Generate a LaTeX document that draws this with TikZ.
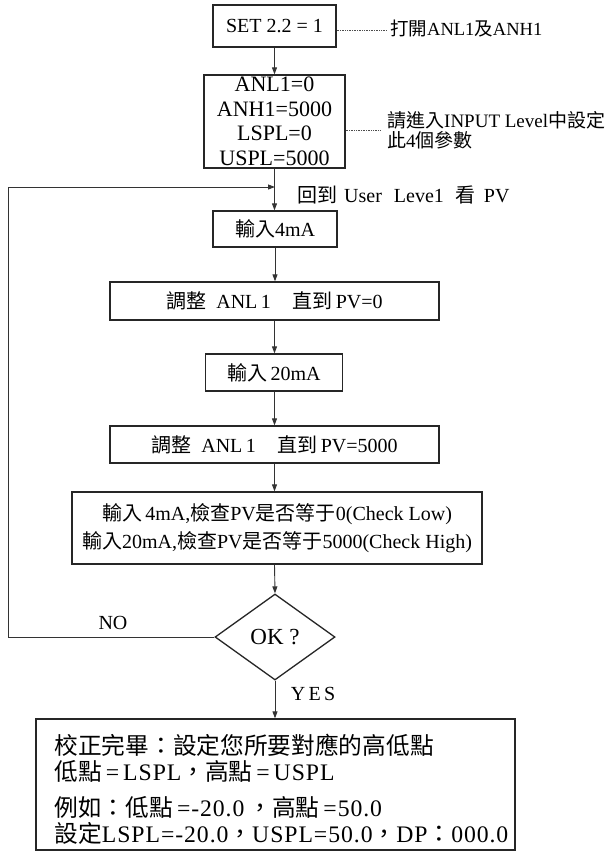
\documentclass[tikz,border=0pt]{standalone}
\usepackage{fontspec}
\setmainfont{Liberation Serif}
\newfontfamily\cjk{Noto Sans CJK TC}
\newfontfamily\widelatin[LetterSpace=4]{Liberation Serif}
\newcommand\zh[1]{{\cjk#1}}
\usetikzlibrary{arrows.meta,shapes.geometric,calc}

\begin{document}
\begin{tikzpicture}[x=1pt,y=-1pt,
  box/.style={draw=black!85, line width=1.3pt, inner sep=0pt, align=center,
              font=\fontsize{20}{24}\selectfont},
  flow/.style={draw=black!80, line width=0.9pt, -{Triangle[length=7pt,width=5pt]}},
  tag/.style={draw=black!70, line width=0.7pt, densely dotted},
  note/.style={inner sep=0pt, align=left, font=\fontsize{19}{20}\selectfont}]
\useasboundingbox (0,0) rectangle (615,852);
\fill[white] (0,0) rectangle (615,852);

% process boxes
\node[box, minimum width=123pt, minimum height=42pt] (b1) at (274.5,26) {SET 2.2 = 1};
\node[box, minimum width=141pt, minimum height=93pt, font=\fontsize{22}{24.5}\selectfont]
  (b2) at (274.5,121.5) {ANL1=0\\ANH1=5000\\LSPL=0\\USPL=5000};
\node[box, minimum width=124pt, minimum height=36pt] (b3) at (275,229) {\zh{輸入}4mA};
\node[box, minimum width=329pt, minimum height=38pt] (b4) at (274.5,301)
  {\zh{調整}\hspace{0.5em}ANL\,1\hspace{1.1em}\zh{直到}\hspace{0.15em}PV=0};
\node[box, minimum width=137pt, minimum height=37pt] (b5) at (274,372.5) {\zh{輸入}\,20mA};
\node[box, minimum width=329pt, minimum height=37pt] (b6) at (274.5,444.5)
  {\zh{調整}\hspace{0.5em}ANL\,1\hspace{1.1em}\zh{直到}\hspace{0.15em}PV=5000};
\node[box, minimum width=410pt, minimum height=72pt, font=\fontsize{20}{28}\selectfont]
  (b7) at (277,528)
  {\zh{輸入}\,4mA,\zh{檢查}PV\zh{是否等于}0(Check Low)\\
   \zh{輸入}20mA,\zh{檢查}PV\zh{是否等于}5000(Check High)};
\node[draw=black!85, line width=1.3pt, shape=diamond, inner sep=0pt, aspect=1.4,
      minimum width=120pt, minimum height=86pt, font=\fontsize{23}{25}\selectfont]
  (dia) at (275,637) {OK ?};
\node[box, minimum width=479pt, minimum height=131pt] (b8) at (275.5,784.5) {};
\node[note, anchor=north west, font=\fontsize{23.7}{26}\widelatin] (b8t)
  at ($(b8.north west)+(19,16)$)
  {\zh{校正完畢：設定您所要對應的高低點}\\
   \zh{低點}\,=\,LSPL\zh{，高點}\,=\,USPL\\[10pt]
   \zh{例如：低點}\,=-20.0\,\zh{，高點}\,=50.0\\
   \zh{設定}LSPL=-20.0\zh{，}USPL=50.0\zh{，}DP\zh{：}000.0};

% side notes
\coordinate (t1) at (387,30);
\draw[tag] (b1.east |- t1) -- (t1);
\node[note, anchor=west, font=\fontsize{18.5}{20}\selectfont] (n1) at (390,29)
  {\zh{打開}ANL1\zh{及}ANH1};
\coordinate (t2) at (380,130);
\draw[tag] (b2.east |- t2) -- (t2);
\node[note, anchor=north west] (n2) at (387,111)
  {\zh{請進入}INPUT Level\zh{中設定}\\\zh{此}4\zh{個參數}};

% main flow
\coordinate (fb) at (275,187);
\coordinate (lft) at (8,187);
\draw[flow] (b1.south) -- (b1.south |- b2.north);
\draw[flow] (b2.south) -- (b2.south |- b3.north);
\draw[flow] (b3.south) -- (b3.south |- b4.north);
\draw[flow] (b4.south) -- (b4.south |- b5.north);
\draw[flow] (b5.south -| b4.south) -- (b4.south |- b6.north);
\draw[flow] (b6.south) -- (b6.south |- b7.north);
\draw[flow] (b6.south |- b7.south) -- (dia.north);
\draw[flow] (dia.south) -- (dia.south |- b8.north);

% loop back
\draw[flow] (dia.west) -| (lft) -- (fb);
\node[note, anchor=west, font=\fontsize{20}{22}\selectfont] (n3) at (297,195)
  {\zh{回到}\hspace{0.35em}User\hspace{0.6em}Leve1\hspace{0.6em}\zh{看}\hspace{0.4em}PV};
\node[inner sep=0pt, font=\fontsize{20}{22}\selectfont] (no) at (113,623) {NO};
\node[inner sep=0pt, font=\fontsize{20}{22}\selectfont] (yes) at (313,694) {Y\,E\,S};
\end{tikzpicture}
\end{document}
